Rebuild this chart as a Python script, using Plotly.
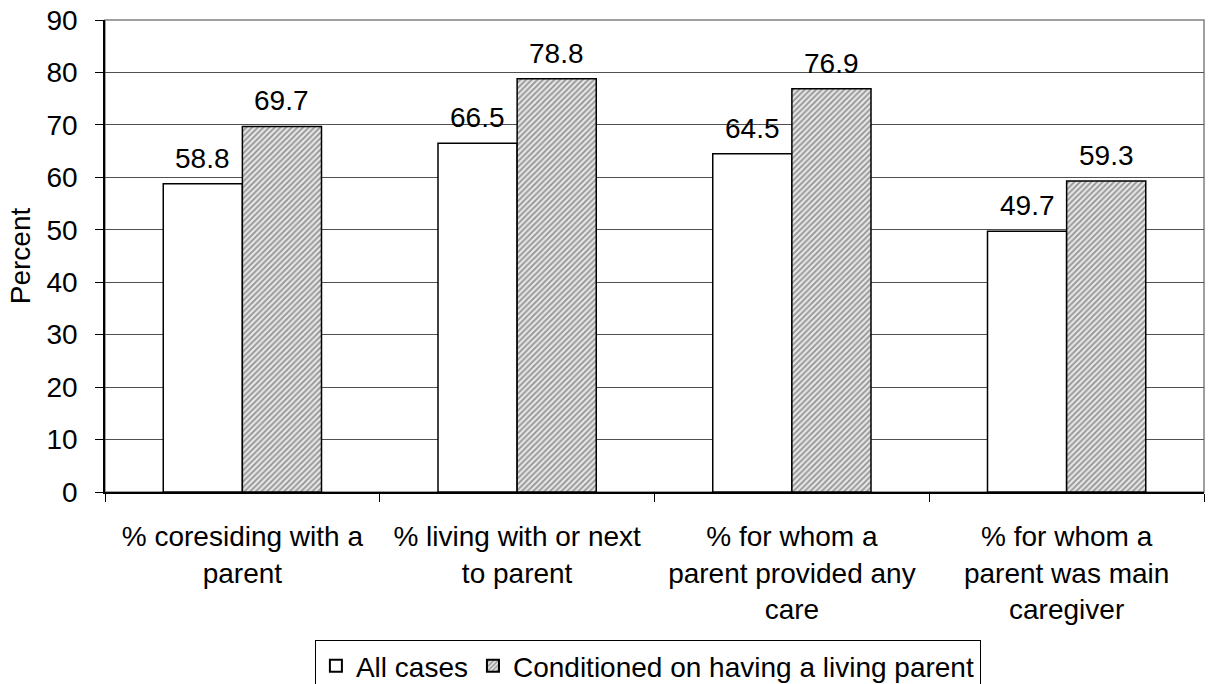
import plotly.graph_objects as go

# Survey measures and the two sample definitions
categories = [
    "% coresiding with a<br>parent",
    "% living with or next<br>to parent",
    "% for whom a<br>parent provided any<br>care",
    "% for whom a<br>parent was main<br>caregiver",
]
all_cases = [58.8, 66.5, 64.5, 49.7]
conditioned = [69.7, 78.8, 76.9, 59.3]
series_names = ["All cases", "Conditioned on having a living parent"]
y_ticks = [0, 10, 20, 30, 40, 50, 60, 70, 80, 90]

FONT = "Arial, Liberation Sans, sans-serif"
FS = 28

fig = go.Figure()
fig.add_trace(go.Bar(
    name=series_names[0], x=categories, y=all_cases,
    marker=dict(color="white", line=dict(color="black", width=1.5)),
))
fig.add_trace(go.Bar(
    name=series_names[1], x=categories, y=conditioned,
    marker=dict(
        color="#d8d8d8",
        line=dict(color="black", width=1.5),
        pattern=dict(shape="/", size=4, solidity=0.45,
                     fgcolor="#404040", bgcolor="#e6e6e6", fillmode="overlay"),
    ),
))

# Value labels above each bar
plot_w = 1209 - 105 - 5
cat_w = plot_w / len(categories)
bargap = 0.424
bar_w = cat_w * (1 - bargap) / 2
annotations = []
for cat, a, c in zip(categories, all_cases, conditioned):
    for val, shift in ((a, -bar_w / 2), (c, bar_w / 2)):
        annotations.append(dict(
            x=cat, y=val, xref="x", yref="y", text=f"{val:.1f}",
            showarrow=False, xshift=shift, yshift=8, yanchor="bottom",
            font=dict(family=FONT, size=FS, color="black"),
        ))

fig.update_layout(
    width=1209, height=684,
    margin=dict(l=105, r=5, t=20, b=192, autoexpand=False),
    paper_bgcolor="white", plot_bgcolor="white",
    barmode="group", bargap=bargap, bargroupgap=0,
    font=dict(family=FONT, size=FS, color="black"),
    showlegend=True,
    legend=dict(
        orientation="h", x=0.191, xanchor="left", y=-0.3136, yanchor="top",
        bordercolor="black", borderwidth=1, bgcolor="white",
        font=dict(family=FONT, size=FS, color="black"),
        itemsizing="constant", traceorder="normal",
    ),
    annotations=annotations,
    shapes=[dict(type="rect", xref="paper", yref="paper", x0=0, x1=1, y0=0, y1=1,
                 line=dict(color="#808080", width=1.5), layer="below")],
)
fig.update_xaxes(
    showline=True, linecolor="black", linewidth=1.5, automargin=False,
    ticks="outside", tickson="boundaries", ticklen=8, tickcolor="black",
    ticklabelstandoff=19, showgrid=False, tickangle=0,
    tickfont=dict(family=FONT, size=FS, color="black"),
)
fig.update_yaxes(
    range=[0, 90], tickvals=y_ticks, showline=True, linecolor="black", linewidth=1.5,
    automargin=False,
    ticks="outside", ticklen=8, tickcolor="black", ticklabelstandoff=12,
    showgrid=True, gridcolor="#505050", gridwidth=1, zeroline=False,
    title=dict(text="Percent", font=dict(family=FONT, size=FS, color="black"), standoff=8),
    tickfont=dict(family=FONT, size=FS, color="black"),
)

fig.write_html("out.html")
